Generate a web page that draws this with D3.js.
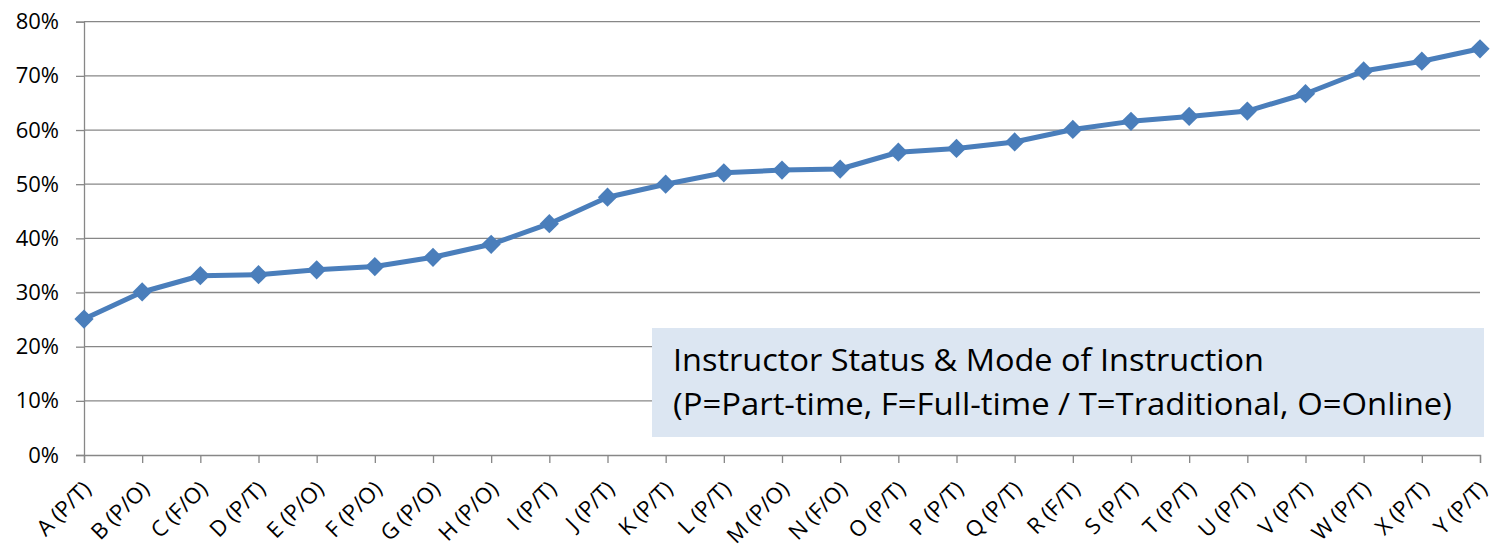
<!DOCTYPE html>
<html>
<head>
<meta charset="utf-8">
<script src="https://cdn.jsdelivr.net/npm/d3@7"></script>
<style>
  body { margin: 0; background: #fff; }
  text { font-family: "Open Sans", "Noto Sans", sans-serif; fill: #000; }
</style>
</head>
<body>
<svg id="chart" width="1492" height="546"></svg>
<script>
// instructors, sorted by rate
var categories = ['A (P/T)', 'B (P/O)', 'C (F/O)', 'D (P/T)', 'E (P/O)', 'F (P/O)', 'G (P/O)',
    'H (P/O)', 'I (P/T)', 'J (P/T)', 'K (P/T)', 'L (P/T)', 'M (P/O)', 'N (F/O)', 'O (P/T)',
    'P (P/T)', 'Q (P/T)', 'R (F/T)', 'S (P/T)', 'T (P/T)', 'U (P/T)', 'V (P/T)', 'W (P/T)',
    'X (P/T)', 'Y (P/T)'];
var values = [0.251, 0.301, 0.331, 0.333, 0.342, 0.348, 0.365, 0.389, 0.427, 0.476, 0.500,
    0.521, 0.526, 0.528, 0.559, 0.566, 0.578, 0.601, 0.616, 0.625, 0.635, 0.667, 0.709,
    0.727, 0.750];
var yTicks = [0, 0.1, 0.2, 0.3, 0.4, 0.5, 0.6, 0.7, 0.8];
var noteLines = ['Instructor Status & Mode of Instruction',
    '(P=Part-time, F=Full-time / T=Traditional, O=Online)'];

var plotLeft = 84, plotRight = 1480, plotTop = 21.7, plotBottom = 455;
var gridColor = '#878787', lineColor = '#4a7ebb';

var svg = d3.select('#chart');

var x = d3.scalePoint().domain(categories).range([plotLeft, plotRight]);
var y = d3.scaleLinear().domain([0, 0.8]).range([plotBottom, plotTop]);

// gridlines
svg.append('g')
    .selectAll('line')
    .data(yTicks.slice(1))
    .enter().append('line')
    .attr('x1', plotLeft).attr('x2', plotRight)
    .attr('y1', function (d) { return y(d); })
    .attr('y2', function (d) { return y(d); })
    .attr('stroke', gridColor)
    .attr('stroke-width', 1.3);

// y axis
var yAxis = svg.append('g')
    .attr('transform', 'translate(' + plotLeft + ',0)')
    .call(d3.axisLeft(y).tickValues(yTicks).tickFormat(d3.format('.0%')).tickSize(8).tickPadding(17));
yAxis.select('.domain').attr('stroke', gridColor).attr('stroke-width', 1.3);
yAxis.selectAll('.tick line').attr('stroke', gridColor).attr('stroke-width', 1.3);
yAxis.selectAll('.tick text').attr('font-size', '22px').attr('font-family', null).attr('fill', '#000');

// x axis
var xAxis = svg.append('g')
    .attr('transform', 'translate(0,' + plotBottom + ')')
    .call(d3.axisBottom(x).tickSize(8).tickFormat(''));
xAxis.select('.domain').attr('stroke', gridColor).attr('stroke-width', 1.3);
xAxis.selectAll('.tick line').attr('stroke', gridColor).attr('stroke-width', 1.3);

svg.append('g')
    .selectAll('text')
    .data(categories)
    .enter().append('text')
    .attr('transform', function (d) { return 'translate(' + (x(d) + 3) + ',' + (plotBottom + 30) + ') rotate(-45)'; })
    .attr('text-anchor', 'end')
    .attr('dy', '0.35em')
    .attr('font-size', '22px')
    .text(function (d) { return d; });

// series line
var line = d3.line()
    .x(function (d, i) { return x(categories[i]); })
    .y(function (d) { return y(d); });

svg.append('path')
    .datum(values)
    .attr('d', line)
    .attr('fill', 'none')
    .attr('stroke', lineColor)
    .attr('stroke-width', 5)
    .attr('stroke-linejoin', 'round');

svg.append('g')
    .selectAll('path')
    .data(values)
    .enter().append('path')
    .attr('d', d3.symbol().type(d3.symbolSquare).size(185))
    .attr('transform', function (d, i) { return 'translate(' + x(categories[i]) + ',' + y(d) + ') rotate(45)'; })
    .attr('fill', lineColor);

// note box
var note = svg.append('g');
note.append('rect')
    .attr('x', 652).attr('y', 328)
    .attr('width', 832).attr('height', 109)
    .attr('fill', '#dce6f2');
var noteWidths = [591, 779];
note.selectAll('text')
    .data(noteLines)
    .enter().append('text')
    .attr('x', 673)
    .attr('y', function (d, i) { return 371 + i * 44; })
    .attr('font-size', '31px')
    .attr('textLength', function (d, i) { return noteWidths[i]; })
    .attr('lengthAdjust', 'spacingAndGlyphs')
    .text(function (d) { return d; });
</script>
</body>
</html>
